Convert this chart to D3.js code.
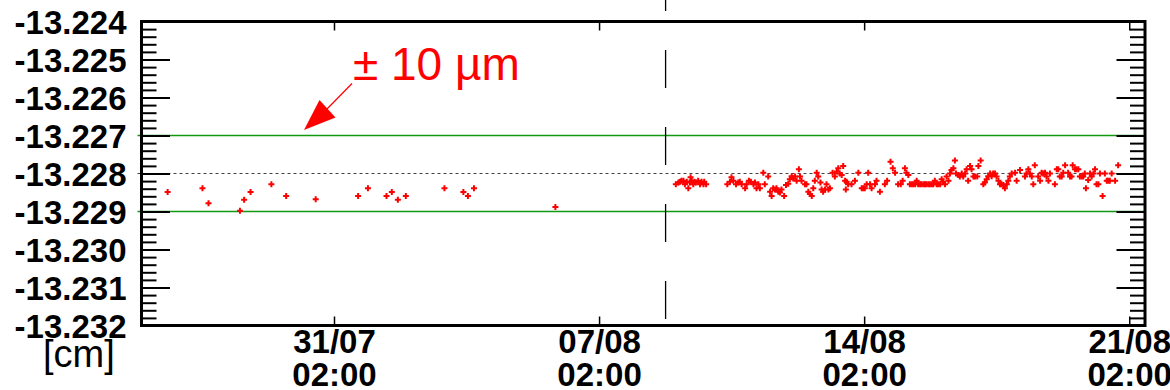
<!DOCTYPE html>
<html>
<head>
<meta charset="utf-8">
<script src="https://cdn.jsdelivr.net/npm/d3@7"></script>
<style>
  html, body { margin: 0; padding: 0; background: #fff; }
  svg { display: block; }
</style>
</head>
<body>
<svg id="chart" width="1170" height="390"></svg>
<script>
// Measurement start: 26/07 00:00 (UTC); sample times are given in days after it.
const T0 = Date.UTC(2012, 6, 26, 0, 0);
const DAY = 86400000;

// Sample times (days after T0)
const sampleDays = [
  0.69, 1.61, 1.77, 2.60, 2.71, 2.88, 3.43, 3.82, 4.60, 5.72,
  5.98, 6.47, 6.61, 6.77, 6.98, 8.00, 8.50, 8.62, 8.78, 10.93,
  14.11, 14.18, 14.22, 14.26, 14.31, 14.35, 14.40, 14.44, 14.48, 14.50,
  14.53, 14.57, 14.60, 14.64, 14.70, 14.75, 14.79, 14.84, 14.86, 14.91,
  15.47, 15.54, 15.58, 15.63, 15.70, 15.76, 15.80, 15.85, 15.94, 15.98,
  16.04, 16.09, 16.16, 16.20, 16.24, 16.29, 16.33, 16.42, 16.46, 16.55,
  16.60, 16.64, 16.68, 16.73, 16.77, 16.82, 16.86, 16.90, 16.97, 17.02,
  17.08, 17.12, 17.17, 17.21, 17.26, 17.30, 17.36, 17.39, 17.43, 17.52,
  17.56, 17.61, 17.65, 17.70, 17.74, 17.78, 17.83, 17.87, 17.93, 17.96,
  18.00, 18.05, 18.09, 18.14, 18.18, 18.25, 18.31, 18.36, 18.40, 18.44,
  18.49, 18.53, 18.58, 18.60, 18.62, 18.66, 18.75, 18.84, 18.93, 19.02,
  19.06, 19.10, 19.15, 19.19, 19.24, 19.28, 19.37, 19.41, 19.50, 19.63,
  19.69, 19.78, 19.84, 19.90, 19.98, 20.05, 20.10, 20.16, 20.20, 20.25,
  20.29, 20.34, 20.38, 20.43, 20.47, 20.51, 20.56, 20.60, 20.65, 20.69,
  20.73, 20.78, 20.82, 20.87, 20.91, 20.95, 21.00, 21.04, 21.09, 21.13,
  21.17, 21.22, 21.26, 21.31, 21.35, 21.39, 21.44, 21.48, 21.51, 21.57,
  21.61, 21.66, 21.70, 21.75, 21.79, 21.83, 21.88, 21.92, 21.97, 22.01,
  22.07, 22.10, 22.16, 22.23, 22.27, 22.32, 22.36, 22.41, 22.45, 22.49,
  22.54, 22.58, 22.63, 22.67, 22.71, 22.76, 22.80, 22.85, 22.89, 22.93,
  22.98, 23.07, 23.11, 23.20, 23.33, 23.37, 23.42, 23.46, 23.51, 23.55,
  23.59, 23.68, 23.73, 23.77, 23.81, 23.86, 23.90, 23.95, 23.99, 24.12,
  24.17, 24.21, 24.25, 24.30, 24.34, 24.39, 24.47, 24.52, 24.56, 24.59,
  24.65, 24.69, 24.74, 24.78, 24.83, 24.87, 24.91, 24.94, 25.00, 25.05,
  25.09, 25.14, 25.18, 25.22, 25.27, 25.31, 25.38, 25.44, 25.49, 25.53,
  25.57, 25.62, 25.71, 25.79
];

// Measured position [cm]
const positions = [
  -13.22849, -13.22839, -13.22878, -13.22898, -13.22869, -13.22849, -13.22828, -13.22859, -13.22868, -13.22859,
  -13.22839, -13.22859, -13.22849, -13.22869, -13.22859, -13.22839, -13.22849, -13.22859, -13.22839, -13.22888,
  -13.22828, -13.22824, -13.22822, -13.22819, -13.22819, -13.22828, -13.22822, -13.22839, -13.22824, -13.22810,
  -13.22819, -13.22828, -13.22822, -13.22824, -13.22819, -13.22828, -13.22822, -13.22828, -13.22822, -13.22828,
  -13.22828, -13.22822, -13.22810, -13.22819, -13.22828, -13.22824, -13.22822, -13.22828, -13.22839, -13.22828,
  -13.22819, -13.22822, -13.22828, -13.22824, -13.22839, -13.22828, -13.22839, -13.22798, -13.22828, -13.22808,
  -13.22848, -13.22859, -13.22839, -13.22842, -13.22839, -13.22848, -13.22850, -13.22842, -13.22859, -13.22830,
  -13.22827, -13.22815, -13.22807, -13.22813, -13.22808, -13.22819, -13.22789, -13.22808, -13.22819, -13.22828,
  -13.22828, -13.22848, -13.22854, -13.22859, -13.22839, -13.22819, -13.22798, -13.22808, -13.22824, -13.22842,
  -13.22848, -13.22842, -13.22828, -13.22842, -13.22839, -13.22798, -13.22808, -13.22795, -13.22786, -13.22800,
  -13.22804, -13.22780, -13.22819, -13.22842, -13.22822, -13.22828, -13.22828, -13.22819, -13.22798, -13.22839,
  -13.22839, -13.22839, -13.22828, -13.22798, -13.22828, -13.22839, -13.22828, -13.22819, -13.22848, -13.22828,
  -13.22819, -13.22769, -13.22786, -13.22798, -13.22828, -13.22828, -13.22819, -13.22786, -13.22798, -13.22804,
  -13.22828, -13.22828, -13.22828, -13.22828, -13.22819, -13.22828, -13.22828, -13.22828, -13.22828, -13.22828,
  -13.22828, -13.22828, -13.22828, -13.22828, -13.22828, -13.22819, -13.22828, -13.22828, -13.22828, -13.22815,
  -13.22822, -13.22828, -13.22808, -13.22819, -13.22800, -13.22791, -13.22786, -13.22766, -13.22800, -13.22804,
  -13.22808, -13.22800, -13.22808, -13.22800, -13.22789, -13.22819, -13.22780, -13.22789, -13.22808, -13.22808,
  -13.22808, -13.22780, -13.22766, -13.22828, -13.22824, -13.22815, -13.22807, -13.22800, -13.22807, -13.22800,
  -13.22800, -13.22808, -13.22819, -13.22828, -13.22828, -13.22830, -13.22839, -13.22828, -13.22819, -13.22808,
  -13.22800, -13.22798, -13.22819, -13.22791, -13.22808, -13.22800, -13.22789, -13.22800, -13.22808, -13.22828,
  -13.22778, -13.22808, -13.22819, -13.22798, -13.22800, -13.22798, -13.22808, -13.22819, -13.22800, -13.22828,
  -13.22789, -13.22789, -13.22808, -13.22808, -13.22798, -13.22778, -13.22798, -13.22808, -13.22808, -13.22778,
  -13.22789, -13.22789, -13.22789, -13.22808, -13.22808, -13.22808, -13.22800, -13.22839, -13.22817, -13.22800,
  -13.22808, -13.22800, -13.22789, -13.22828, -13.22828, -13.22800, -13.22859, -13.22800, -13.22819, -13.22819,
  -13.22819, -13.22800, -13.22819, -13.22778
];

// Axis ranges, tick positions and reference levels
const timeRange = ["2012-07-26T00:00Z", "2012-08-21T12:00Z"];
const xTickTimes = ["2012-07-31T02:00Z", "2012-08-07T02:00Z", "2012-08-14T02:00Z", "2012-08-21T02:00Z"];
const yRange = [-13.232, -13.224];
const yMajorTicks = [-13.232, -13.231, -13.230, -13.229, -13.228, -13.227, -13.226, -13.225, -13.224];
const nominal = -13.228;
const toleranceBand = [-13.229, -13.227];
const interventionDay = 13.84;
const annotationText = "± 10 µm";
const unitLabel = "[cm]";

const toDate = d => new Date(T0 + d * DAY);
const points = sampleDays.map((d, i) => ({ t: toDate(d), v: positions[i] }));

const frame = { left: 141.5, right: 1145, top: 21.5, bottom: 325.5 };

const x = d3.scaleUtc()
  .domain(timeRange.map(s => new Date(s)))
  .range([frame.left, frame.right]);

const y = d3.scaleLinear()
  .domain(yRange)
  .range([frame.bottom, frame.top]);

// minor ticks every 0.0002 cm
const yMinorTicks = d3.range(0, 41).map(i => +(yRange[0] + i * 0.0002).toFixed(4))
  .filter(v => !yMajorTicks.some(m => Math.abs(m - v) < 1e-7));

const svg = d3.select("#chart");
const plainMinus = d3.formatLocale({ decimal: ".", thousands: ",", grouping: [3], currency: ["", ""], minus: "-" });
const fmtY = plainMinus.format(".3f");
const fmtDay = d3.utcFormat("%d/%m");
const fmtHour = d3.utcFormat("%H:%M");
const FONT = '"Liberation Sans", Arial, Helvetica, sans-serif';

// reference levels
svg.append("g").selectAll("line")
  .data(toleranceBand)
  .join("line")
  .attr("x1", frame.left - 4).attr("x2", frame.right)
  .attr("y1", d => y(d)).attr("y2", d => y(d))
  .attr("stroke", "#119911").attr("stroke-width", 1.5);

svg.append("line")
  .attr("x1", frame.left - 4).attr("x2", frame.right)
  .attr("y1", y(nominal)).attr("y2", y(nominal))
  .attr("stroke", "#444").attr("stroke-width", 1.2)
  .attr("stroke-dasharray", "3,3");

// intervention marker
svg.append("line")
  .attr("x1", x(toDate(interventionDay))).attr("x2", x(toDate(interventionDay)))
  .attr("y1", -27).attr("y2", frame.bottom)
  .attr("stroke", "#000").attr("stroke-width", 1.3)
  .attr("stroke-dasharray", "38,39");

// axes: left with labels, right mirrored, bottom with labels, top mirrored
const styleAxis = g => {
  g.select(".domain").remove();
  g.selectAll(".tick line").attr("stroke", "#000").attr("stroke-width", 2);
};

svg.append("g")
  .attr("transform", `translate(${frame.left},0)`)
  .call(d3.axisLeft(y).tickValues(yMinorTicks).tickSize(-15).tickFormat(""))
  .call(styleAxis);

svg.append("g")
  .attr("transform", `translate(${frame.left},0)`)
  .call(d3.axisLeft(y).tickValues(yMajorTicks).tickSize(-28.5).tickPadding(15).tickFormat(fmtY))
  .call(styleAxis)
  .call(g => g.selectAll(".tick text")
    .attr("fill", "#000")
    .attr("font-size", 33).attr("font-family", FONT).attr("font-weight", "bold")
    .attr("dy", null).attr("y", 0).attr("dominant-baseline", "central"));

svg.append("g")
  .attr("transform", `translate(${frame.right},0)`)
  .call(d3.axisRight(y).tickValues(yMinorTicks).tickSize(-15).tickFormat(""))
  .call(styleAxis);

svg.append("g")
  .attr("transform", `translate(${frame.right},0)`)
  .call(d3.axisRight(y).tickValues(yMajorTicks).tickSize(-28.5).tickFormat(""))
  .call(styleAxis);

const xTicks = xTickTimes.map(s => new Date(s));

svg.append("g")
  .attr("transform", `translate(0,${frame.bottom})`)
  .call(d3.axisBottom(x).tickValues(xTicks).tickSize(-9).tickFormat(""))
  .call(styleAxis)
  .call(g => g.selectAll(".tick line").attr("stroke-width", 1.5))
  .call(g => {
    g.selectAll(".tick text").remove();
    g.selectAll(".tick").each(function (d) {
      const t = d3.select(this).append("text")
        .attr("fill", "#000").attr("text-anchor", "middle")
        .attr("font-size", 33).attr("font-family", FONT).attr("font-weight", "bold");
      t.append("tspan").attr("x", 0).attr("y", 27).text(fmtDay(d));
      t.append("tspan").attr("x", 0).attr("y", 60).text(fmtHour(d));
    });
  });

svg.append("g")
  .attr("transform", `translate(0,${frame.top})`)
  .call(d3.axisTop(x).tickValues(xTicks).tickSize(-9).tickFormat(""))
  .call(styleAxis)
  .call(g => g.selectAll(".tick line").attr("stroke-width", 1.5));

// frame
svg.append("rect")
  .attr("x", frame.left).attr("y", frame.top)
  .attr("width", frame.right - frame.left).attr("height", frame.bottom - frame.top)
  .attr("fill", "none").attr("stroke", "#000").attr("stroke-width", 3);

// unit label
svg.append("text")
  .attr("x", 43).attr("y", 367)
  .attr("font-family", FONT).attr("font-size", 38).attr("fill", "#000")
  .text(unitLabel);

// measurements
const marker = d3.symbol().type(d3.symbolCross).size(20);
svg.append("g").selectAll("path")
  .data(points)
  .join("path")
  .attr("d", marker)
  .attr("transform", d => `translate(${x(d.t)},${y(d.v)})`)
  .attr("fill", "#ff0000");

// tolerance annotation with arrow
svg.append("text")
  .attr("x", 353).attr("y", 80)
  .attr("font-family", FONT).attr("font-size", 46).attr("fill", "#ff0000")
  .text(annotationText);

svg.append("line")
  .attr("x1", 352).attr("y1", 83.5).attr("x2", 326).attr("y2", 110)
  .attr("stroke", "#ff0000").attr("stroke-width", 1.2);

svg.append("path")
  .attr("d", d3.line()([[304, 130], [319.5, 100], [335.5, 117.5]]) + "Z")
  .attr("fill", "#ff0000");
</script>
</body>
</html>
